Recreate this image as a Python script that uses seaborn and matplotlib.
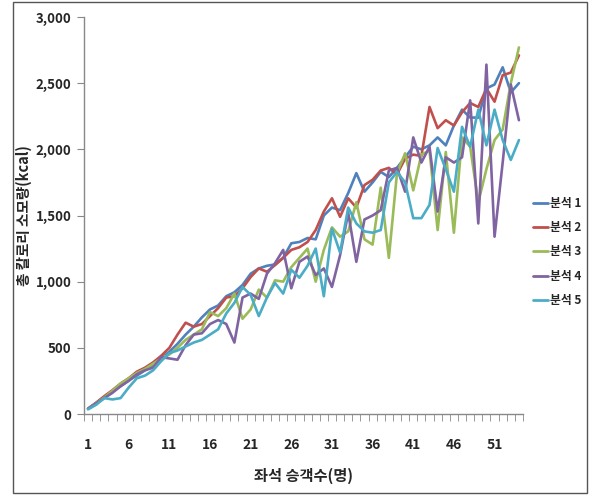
import pandas as pd
import seaborn as sns
import matplotlib.pyplot as plt
from matplotlib.patches import Rectangle
from matplotlib.ticker import FuncFormatter, FixedLocator

# seat passengers 1..54
seats = list(range(1, 55))
tick_labels = [1, 6, 11, 16, 21, 26, 31, 36, 41, 46, 51]

# values (kcal)
run1 = [40, 85, 130, 170, 210, 255, 290, 330, 370, 420,
        470, 530, 600, 660, 730, 790, 820, 890, 920, 975,
        1060, 1100, 1120, 1130, 1180, 1290, 1300, 1330, 1320, 1500,
        1560, 1540, 1670, 1820, 1680, 1750, 1830, 1790, 1860, 1940,
        2020, 2000, 2030, 2090, 2030, 2180, 2300, 2240, 2240, 2460,
        2490, 2620, 2430, 2500]
run2 = [40, 85, 135, 180, 230, 270, 320, 350, 390, 440,
        500, 600, 690, 660, 680, 740, 800, 880, 890, 950,
        1035, 1100, 1075, 1125, 1180, 1240, 1260, 1300, 1390, 1530,
        1630, 1490, 1630, 1560, 1730, 1770, 1840, 1860, 1810, 1930,
        1960, 1950, 2320, 2160, 2220, 2180, 2280, 2350, 2320, 2460,
        2360, 2560, 2580, 2710]
run3 = [40, 80, 125, 175, 230, 270, 310, 340, 380, 420,
        450, 500, 560, 600, 640, 770, 740, 800, 910, 720,
        790, 940, 880, 1010, 1000, 1110, 1180, 1250, 1000, 1240,
        1410, 1340, 1380, 1600, 1320, 1280, 1710, 1180, 1820, 1970,
        1690, 1960, 1990, 1390, 1980, 1370, 2090, 2020, 1600, 1850,
        2070, 2150, 2500, 2770]
run4 = [40, 80, 120, 160, 210, 250, 300, 330, 350, 430,
        420, 410, 520, 600, 610, 680, 710, 680, 540, 880,
        910, 870, 1060, 1140, 1240, 950, 1150, 1190, 1050, 1100,
        960, 1200, 1520, 1150, 1470, 1500, 1540, 1840, 1860, 1680,
        2090, 1900, 2020, 1530, 1940, 1900, 1940, 2370, 1440, 2640,
        1340, 1900, 2490, 2220]
run5 = [35, 70, 120, 110, 120, 200, 270, 290, 330, 400,
        460, 480, 510, 540, 560, 600, 640, 760, 840, 960,
        900, 740, 880, 990, 910, 1090, 1030, 1120, 1250, 890,
        1400, 1220, 1560, 1440, 1380, 1370, 1390, 1750, 1830, 1750,
        1480, 1480, 1580, 2010, 1850, 1680, 2170, 2020, 2300, 2030,
        2300, 2070, 1920, 2070]

names = ['분석 1', '분석 2', '분석 3', '분석 4', '분석 5']
colors = ['#4F81BD', '#C0504D', '#9BBB59', '#8064A2', '#4BACC6']

df = pd.DataFrame({'seat': seats, names[0]: run1, names[1]: run2,
                   names[2]: run3, names[3]: run4, names[4]: run5})
long_df = df.melt(id_vars='seat', var_name='series', value_name='kcal')

sns.set_style('white')
plt.rcParams['font.family'] = ['Noto Sans CJK KR', 'DejaVu Sans']

fig = plt.figure(figsize=(5.89, 4.95), dpi=100)
ax = fig.add_axes([84 / 589, 1 - 414 / 495, 439 / 589, 397 / 495])

sns.lineplot(data=long_df, x='seat', y='kcal', hue='series',
             palette=colors, linewidth=1.9, ax=ax, legend=False)

ax.set_xlim(0.5, 54.5)
ax.set_ylim(0, 3000)
ax.set_yticks(range(0, 3001, 500))
ax.yaxis.set_major_formatter(FuncFormatter(lambda v, p: f'{int(v):,}'))
ax.tick_params(axis='y', direction='out', length=5, color='#888888',
               labelsize=9.5, pad=4, left=True)
for t in ax.get_yticklabels():
    t.set_fontweight('bold')

# category boundaries as tick marks, labels every 5 seats
ax.xaxis.set_minor_locator(FixedLocator([i + 0.5 for i in range(0, 55)]))
ax.set_xticks(tick_labels)
ax.set_xticklabels([str(v) for v in tick_labels], fontweight='bold')
ax.tick_params(axis='x', which='major', length=0, labelsize=10, pad=17)
ax.tick_params(axis='x', which='minor', direction='out', length=5,
               color='#888888', bottom=True)

for s in ['top', 'right']:
    ax.spines[s].set_visible(False)
for s in ['left', 'bottom']:
    ax.spines[s].set_color('#888888')
    ax.spines[s].set_linewidth(1.0)

ax.set_xlabel('좌석 승객수(명)', fontsize=11, fontweight='bold')
ax.set_ylabel('총 칼로리 소모량(kcal)', fontsize=10.5, fontweight='bold')
ax.xaxis.set_label_coords(0.5, -0.135)
ax.yaxis.set_label_coords(-0.118, 0.5)

handles = [plt.Line2D([], [], color=c, linewidth=2.0) for c in colors]
fig.legend(handles, names, loc='center left', bbox_to_anchor=(533 / 589, 1 - 252 / 495),
           frameon=False, handlelength=1.3, handletextpad=0.15, labelspacing=0.95,
           borderpad=0.0, borderaxespad=0.0,
           prop={'weight': 'bold', 'size': 8.5})

fig.patches.append(Rectangle((13 / 589, 2 / 495), 574 / 589, 491 / 495,
                             transform=fig.transFigure, fill=False,
                             edgecolor='#555555', linewidth=1.0))

fig.savefig('out.png', dpi=100)
